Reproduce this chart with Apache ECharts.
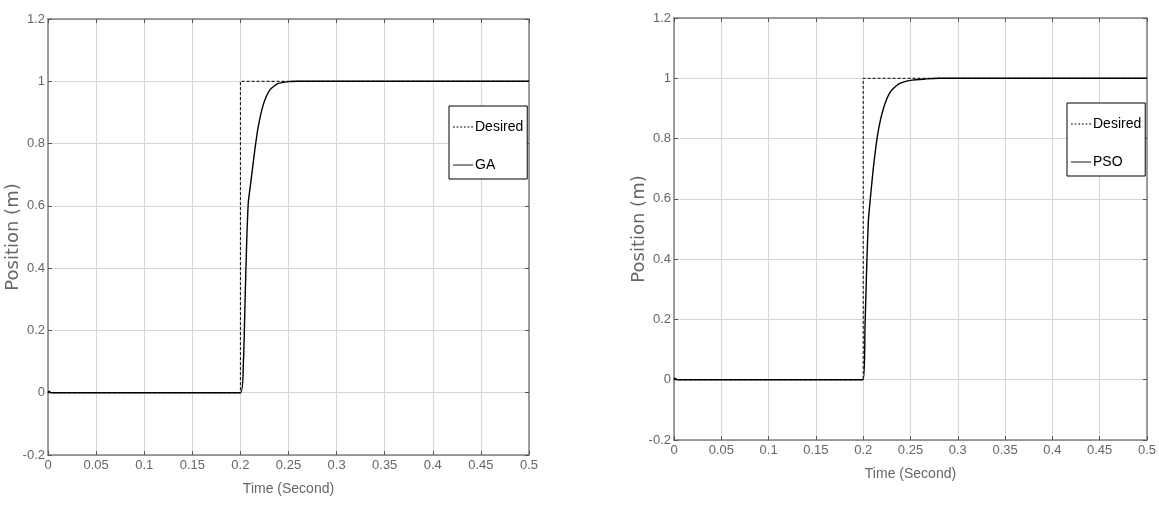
<!DOCTYPE html>
<html>
<head>
<meta charset="utf-8">
<script src="https://cdn.jsdelivr.net/npm/echarts@6/dist/echarts.min.js"></script>
<style>
html, body { margin: 0; padding: 0; background: #fff; }
#chart { width: 1159px; height: 514px; }
</style>
</head>
<body>
<div id="chart"></div>
<script>
// reference step
const desiredTime = [0, 0.2, 0.2, 0.5];
const desiredPos = [0, 0, 1, 1];

// GA response (left)
const gaTime = [0, 0.001, 0.003, 0.2, 0.2031, 0.2048, 0.2065, 0.2082, 0.211, 0.215, 0.2186, 0.2238, 0.2308, 0.2394, 0.25, 0.26, 0.5];
const gaPos = [0, 0.005, 0, 0, 0.096, 0.29, 0.48, 0.61, 0.68, 0.78, 0.855, 0.925, 0.973, 0.993, 0.999, 1, 1];

// PSO response (right)
const psoTime = [0, 0.001, 0.003, 0.2, 0.2019, 0.2037, 0.2055, 0.208, 0.2116, 0.216, 0.2214, 0.2284, 0.237, 0.25, 0.267, 0.28, 0.5];
const psoPos = [0, 0.005, 0, 0, 0.173, 0.372, 0.527, 0.616, 0.726, 0.826, 0.9, 0.953, 0.98, 0.993, 0.998, 1, 1];

const xTicks = { min: 0, max: 0.5, interval: 0.05 };
const yTicks = { min: -0.2, max: 1.2, interval: 0.2 };

const xName = "Time (Second)";
const yName = "Position (m)";

function pairs(t, v) {
    return t.map((x, i) => [x, v[i]]);
}

const sans = "'Liberation Sans', Arial, sans-serif";
const axisGray = "#808080";

// legend samples: dotted for the step, plain line for the response
const dottedIcon = "path://M0,0h2v1h-2z M4,0h2v1h-2z M8,0h2v1h-2z M12,0h2v1h-2z M16,0h2v1h-2z M20,0h2v1h-2z";
const solidIcon = "path://M0,0h22v1h-22z";

function xAxisFor(gridIndex, pos) {
    const main = pos === "bottom";
    return {
        type: "value",
        gridIndex: gridIndex,
        position: pos,
        min: xTicks.min,
        max: xTicks.max,
        interval: xTicks.interval,
        name: main ? xName : "",
        nameLocation: "middle",
        nameGap: 27,
        nameMoveOverlap: false,
        nameTextStyle: { fontFamily: sans, fontSize: 14, color: "#666" },
        axisLine: { show: true, onZero: false, lineStyle: { color: axisGray, width: 1.5 } },
        axisTick: { show: true, inside: true, length: 4, lineStyle: { color: "#555" } },
        axisLabel: { show: main, margin: 4, fontFamily: sans, fontSize: 13, color: "#666" },
        splitLine: { show: main, lineStyle: { color: "#d6d6d6", width: 1 } }
    };
}

function yAxisFor(gridIndex, pos, gap) {
    const main = pos === "left";
    return {
        type: "value",
        gridIndex: gridIndex,
        position: pos,
        min: yTicks.min,
        max: yTicks.max,
        interval: yTicks.interval,
        name: main ? yName : "",
        nameLocation: "middle",
        nameGap: gap,
        nameMoveOverlap: false,
        nameTextStyle: { fontFamily: "'DejaVu Sans', sans-serif", fontSize: 18, color: "#666" },
        axisLine: { show: true, onZero: false, lineStyle: { color: axisGray, width: 1.5 } },
        axisTick: { show: true, inside: true, length: 4, lineStyle: { color: "#555" } },
        axisLabel: { show: main, margin: 3, fontFamily: sans, fontSize: 13, color: "#666" },
        splitLine: { show: main, lineStyle: { color: "#d6d6d6", width: 1 } }
    };
}

function legendFor(names, left, top) {
    return {
        data: [
            { name: names[0], icon: dottedIcon },
            { name: names[1], icon: solidIcon }
        ],
        orient: "vertical",
        left: left,
        top: top,
        backgroundColor: "#fff",
        borderColor: "#000",
        borderWidth: 1,
        borderRadius: 0,
        padding: [14, 4, 7, 4],
        itemWidth: 20,
        itemHeight: 1.7,
        itemGap: 24,
        selectedMode: false,
        textStyle: { fontFamily: sans, fontSize: 14, color: "#000", padding: [0, 0, 0, -3] }
    };
}

const desiredStyle = { color: "#000", width: 1, type: [3, 2] };
const solidStyle = { color: "#000", width: 1.4, type: "solid" };

const chart = echarts.init(document.getElementById("chart"), null, { renderer: "canvas" });

chart.setOption({
    animation: false,
    backgroundColor: "#fff",
    grid: [
        { left: 48, top: 19, width: 481, height: 436 },
        { left: 674, top: 18, width: 473, height: 422 }
    ],
    xAxis: [
        xAxisFor(0, "bottom"),
        xAxisFor(1, "bottom"),
        xAxisFor(0, "top"),
        xAxisFor(1, "top")
    ],
    yAxis: [
        yAxisFor(0, "left", 26),
        yAxisFor(1, "left", 26),
        yAxisFor(0, "right", 0),
        yAxisFor(1, "right", 0)
    ],
    legend: [
        legendFor(["Desired", "GA"], 449, 106),
        legendFor(["Desired", "PSO"], 1067, 103)
    ],
    series: [
        {
            name: "Desired",
            type: "line",
            xAxisIndex: 0,
            yAxisIndex: 0,
            data: pairs(desiredTime, desiredPos),
            symbol: "none",
            lineStyle: desiredStyle,
            itemStyle: { color: "#000" },
            z: 3
        },
        {
            name: "GA",
            type: "line",
            xAxisIndex: 0,
            yAxisIndex: 0,
            data: pairs(gaTime, gaPos),
            symbol: "none",
            smooth: 0.2,
            lineStyle: solidStyle,
            itemStyle: { color: "#000" },
            z: 4
        },
        {
            name: "Desired",
            type: "line",
            xAxisIndex: 1,
            yAxisIndex: 1,
            data: pairs(desiredTime, desiredPos),
            symbol: "none",
            lineStyle: desiredStyle,
            itemStyle: { color: "#000" },
            z: 3
        },
        {
            name: "PSO",
            type: "line",
            xAxisIndex: 1,
            yAxisIndex: 1,
            data: pairs(psoTime, psoPos),
            symbol: "none",
            smooth: 0.2,
            lineStyle: solidStyle,
            itemStyle: { color: "#000" },
            z: 4
        }
    ]
});

window.addEventListener("resize", function() {
    chart.resize();
});
</script>
</body>
</html>
